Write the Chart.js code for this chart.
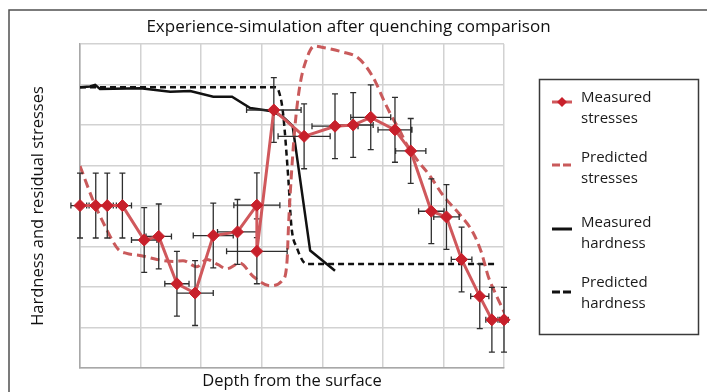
<!DOCTYPE html>
<html>
<head>
<meta charset="utf-8">
<script src="https://cdn.jsdelivr.net/npm/chart.js@4.4.1/dist/chart.umd.min.js"></script>
<style>
  html, body { margin: 0; padding: 0; background: #fff; }
</style>
</head>
<body>
<canvas id="myChart" width="707" height="392"></canvas>
<script>
// texts
const chartTitle = 'Experience-simulation after quenching comparison';
const xTitle = 'Depth from the surface';
const yTitle = 'Hardness and residual stresses';

// Measured stresses (diamonds + error bars)
const measStressX = [0, 0.26, 0.45, 0.70, 1.06, 1.30, 1.60, 1.90, 2.20, 2.60, 2.92, 2.92, 3.20, 3.70, 4.21, 4.51, 4.80, 5.20, 5.46, 5.80, 6.05, 6.30, 6.60, 6.80, 7.00];
const measStressY = [4.01, 4.01, 4.01, 4.01, 3.16, 3.25, 2.08, 1.85, 3.27, 3.36, 4.02, 2.88, 6.37, 5.72, 5.97, 6.00, 6.19, 5.88, 5.36, 3.87, 3.73, 2.68, 1.77, 1.19, 1.19];
const measStressErrY = [0.8, 0.8, 0.8, 0.8, 0.8, 0.8, 0.8, 0.8, 0.8, 0.8, 0.8, 0.8, 0.8, 0.8, 0.8, 0.8, 0.8, 0.8, 0.8, 0.8, 0.8, 0.8, 0.8, 0.8, 0.8];
const measStressErrX = [0.15, 0.15, 0.15, 0.15, 0.21, 0.21, 0.2, 0.3, 0.33, 0.33, 0.38, 0.5, 0.45, 0.43, 0.38, 0.33, 0.33, 0.28, 0.25, 0.21, 0.21, 0.17, 0.15, 0.1, 0.07];

// Predicted stresses (red dashed)
const predStressX = [0, 0.21, 0.44, 0.63, 0.77, 0.99, 1.27, 1.57, 1.70, 1.93, 2.09, 2.28, 2.42, 2.64, 2.86, 3.14, 3.35, 3.42, 3.44, 3.47, 3.55, 3.63, 3.74, 3.87, 3.99, 4.34, 4.57, 4.73, 4.88, 5.03, 5.14, 5.28, 5.39, 5.56, 5.78, 6.00, 6.27, 6.49, 6.63, 6.74, 6.88, 7.01];
const predStressY = [4.99, 4.16, 3.42, 2.93, 2.83, 2.78, 2.68, 2.63, 2.65, 2.50, 2.68, 2.55, 2.45, 2.59, 2.26, 2.03, 2.18, 2.68, 3.42, 4.29, 5.98, 6.97, 7.63, 7.95, 7.92, 7.80, 7.68, 7.43, 7.06, 6.56, 6.23, 5.86, 5.53, 5.15, 4.74, 4.25, 3.79, 3.34, 2.84, 2.26, 1.77, 1.36];

// Measured hardness (black solid)
const measHardX = [0, 0.165, 0.25, 0.33, 1.0, 1.49, 1.82, 2.20, 2.51, 2.81, 3.17, 3.35, 3.51, 3.80, 4.21];
const measHardY = [6.93, 6.95, 6.99, 6.89, 6.91, 6.82, 6.84, 6.70, 6.70, 6.42, 6.34, 6.20, 5.98, 2.90, 2.40];

// Predicted hardness (black dashed)
const predHardX = [0, 3.23, 3.28, 3.35, 3.44, 3.49, 3.58, 3.74, 6.85];
const predHardY = [6.93, 6.93, 6.84, 6.32, 4.66, 3.50, 2.97, 2.57, 2.57];

const fontFam = "'Open Sans', 'Noto Sans', sans-serif";

function toPts(xs, ys) {
  return xs.map((v, i) => ({ x: v, y: ys[i] }));
}

// error bars for the measured stresses
const errorBars = {
  id: 'errorBars',
  beforeDatasetDraw(chart, args) {
    if (args.index !== 0) return;
    const { ctx } = chart;
    const x = chart.scales.x, y = chart.scales.y;
    ctx.save();
    ctx.strokeStyle = '#2e2e2e';
    ctx.lineWidth = 1.3;
    ctx.beginPath();
    measStressX.forEach((v, i) => {
      const px = x.getPixelForValue(v);
      const py = y.getPixelForValue(measStressY[i]);
      const y1 = y.getPixelForValue(measStressY[i] + measStressErrY[i]);
      const y2 = y.getPixelForValue(measStressY[i] - measStressErrY[i]);
      const x1 = x.getPixelForValue(v - measStressErrX[i]);
      const x2 = x.getPixelForValue(v + measStressErrX[i]);
      ctx.moveTo(px, y1); ctx.lineTo(px, y2);
      ctx.moveTo(px - 3, y1); ctx.lineTo(px + 3, y1);
      ctx.moveTo(px - 3, y2); ctx.lineTo(px + 3, y2);
      ctx.moveTo(x1, py); ctx.lineTo(x2, py);
      ctx.moveTo(x1, py - 3); ctx.lineTo(x1, py + 3);
      ctx.moveTo(x2, py - 3); ctx.lineTo(x2, py + 3);
    });
    ctx.stroke();
    ctx.restore();
  }
};

// boxed legend on the right, two lines per entry
const legendBox = {
  id: 'legendBox',
  afterDraw(chart) {
    const { ctx } = chart;
    const ds = chart.data.datasets;
    const rows = [98, 158, 223, 283];
    const marks = [102, 165, 229, 292];
    ctx.save();
    ctx.strokeStyle = '#3a3a3a';
    ctx.lineWidth = 1.5;
    ctx.strokeRect(539.5, 79.5, 159, 255);
    ctx.font = '15px ' + fontFam;
    ctx.fillStyle = '#1a1a1a';
    ctx.textBaseline = 'middle';
    ds.forEach((d, i) => {
      const words = d.label.split(' ');
      ctx.fillText(words[0], 581, rows[i]);
      ctx.fillText(words[1], 581, rows[i] + 20.5);
      const my = marks[i];
      ctx.strokeStyle = d.borderColor;
      ctx.lineWidth = 3;
      ctx.setLineDash(d.borderDash ? [8, 3] : []);
      ctx.beginPath();
      ctx.moveTo(552, my); ctx.lineTo(572, my);
      ctx.stroke();
      ctx.setLineDash([]);
      if (d.pointRadius > 0) {
        ctx.fillStyle = d.pointBackgroundColor;
        ctx.beginPath();
        ctx.moveTo(562, my - 5); ctx.lineTo(567, my); ctx.lineTo(562, my + 5); ctx.lineTo(557, my);
        ctx.closePath();
        ctx.fill();
        ctx.fillStyle = '#1a1a1a';
      }
    });
    ctx.restore();
  }
};

// outer frame of the figure
const frame = {
  id: 'frame',
  afterDraw(chart) {
    const { ctx } = chart;
    ctx.save();
    ctx.strokeStyle = '#505050';
    ctx.lineWidth = 1.5;
    ctx.beginPath();
    ctx.moveTo(9, 392); ctx.lineTo(9, 10); ctx.lineTo(707, 10);
    ctx.stroke();
    ctx.restore();
  }
};

const gridOpt = { color: '#d2d2d2', lineWidth: 1.5, drawTicks: false };

new Chart(document.getElementById('myChart'), {
  type: 'line',
  data: {
    datasets: [
      {
        label: 'Measured stresses',
        data: toPts(measStressX, measStressY),
        borderColor: '#d0585c',
        borderWidth: 3,
        pointStyle: 'rectRot',
        pointRadius: 6,
        pointBackgroundColor: '#c8202b',
        pointBorderColor: '#c8202b',
        pointBorderWidth: 1,
        tension: 0,
        clip: false
      },
      {
        label: 'Predicted stresses',
        data: toPts(predStressX, predStressY),
        borderColor: '#c95a5b',
        borderWidth: 3,
        borderDash: [9, 5],
        pointRadius: 0,
        cubicInterpolationMode: 'monotone'
      },
      {
        label: 'Measured hardness',
        data: toPts(measHardX, measHardY),
        borderColor: '#111111',
        borderWidth: 2.5,
        pointRadius: 0,
        tension: 0
      },
      {
        label: 'Predicted hardness',
        data: toPts(predHardX, predHardY),
        borderColor: '#111111',
        borderWidth: 2.5,
        borderDash: [6, 4],
        pointRadius: 0,
        cubicInterpolationMode: 'monotone'
      }
    ]
  },
  options: {
    responsive: false,
    animation: false,
    layout: { padding: { left: 0, right: 10, top: 0, bottom: 0 } },
    plugins: {
      legend: { display: false },
      tooltip: { enabled: false },
      title: {
        display: true,
        text: chartTitle,
        color: '#111111',
        font: { family: fontFam, size: 17, weight: 'normal' },
        padding: { top: 17, bottom: 6.6 }
      }
    },
    scales: {
      x: {
        type: 'linear',
        min: 0,
        max: 7,
        ticks: { display: false, stepSize: 1 },
        grid: gridOpt,
        border: { color: '#a8a8a8', width: 1.5 },
        title: {
          display: true,
          text: xTitle,
          color: '#111111',
          font: { family: fontFam, size: 16.5 },
          padding: { top: 0, bottom: 1 }
        },
        afterFit: (s) => { s.height = 24; }
      },
      y: {
        min: 0,
        max: 8,
        ticks: { display: false, stepSize: 1 },
        grid: gridOpt,
        border: { color: '#a8a8a8', width: 1.5 },
        title: {
          display: true,
          text: yTitle,
          color: '#111111',
          font: { family: fontFam, size: 16.5 },
          padding: { top: 28, bottom: 0 }
        },
        afterFit: (s) => { s.width = 80; }
      },
      yR: {
        position: 'right',
        grid: { display: false },
        ticks: { display: false },
        border: { display: false },
        afterFit: (s) => { s.width = 193; }
      }
    }
  },
  plugins: [errorBars, legendBox, frame]
});
</script>
</body>
</html>
